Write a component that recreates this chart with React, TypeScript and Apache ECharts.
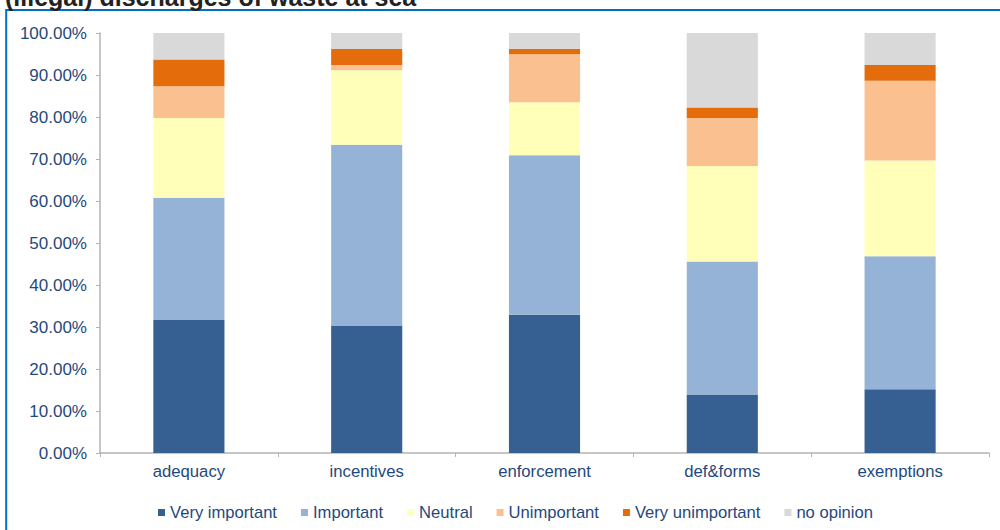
import React, { useEffect, useRef } from "react";
import * as echarts from "echarts";

// Survey answers per topic, as share of respondents (%)
const categories = ["adequacy", "incentives", "enforcement", "def&forms", "exemptions"];
const veryImportant = [31.65, 30.38, 32.91, 13.92, 15.19];
const important = [29.11, 43.04, 37.97, 31.65, 31.65];
const neutral = [18.99, 17.72, 12.66, 22.78, 22.78];
const unimportant = [7.59, 1.27, 11.39, 11.39, 18.99];
const veryUnimportant = [6.33, 3.8, 1.27, 2.53, 3.8];
const noOpinion = [6.33, 3.8, 3.8, 17.72, 7.59];

const seriesNames = ["Very important", "Important", "Neutral", "Unimportant", "Very unimportant", "no opinion"];
const seriesData = [veryImportant, important, neutral, unimportant, veryUnimportant, noOpinion];
const seriesColors = ["#366092", "#95B3D7", "#FFFFB9", "#FAC090", "#E46C0A", "#D9D9D9"];

const titleText = "(illegal) discharges of waste at sea";
const textColor = "#1F497D";
const axisColor = "#B3B3B3";
const fontFamily = "'Liberation Sans', Arial, sans-serif";

export default function App() {
  const ref = useRef<HTMLDivElement>(null);

  useEffect(() => {
    if (!ref.current) return;
    const chart = echarts.init(ref.current, undefined, { renderer: "svg" });
    chart.setOption({
      animation: false,
      backgroundColor: "#ffffff",
      textStyle: { fontFamily },
      graphic: [
        {
          type: "rect",
          shape: { x: 6.2, y: 10, width: 1020, height: 540 },
          style: { fill: "none", stroke: "#0070C0", lineWidth: 2 },
          silent: true,
        },
        {
          type: "text",
          x: 5,
          y: -16,
          style: {
            text: titleText,
            fill: "#222222",
            font: `bold 25px ${fontFamily}`,
            verticalAlign: "top",
          },
          silent: true,
        },
      ],
      legend: {
        left: 153,
        top: 499,
        itemWidth: 7,
        itemHeight: 7,
        itemGap: 24,
        icon: "rect",
        textStyle: { color: textColor, fontSize: 16.6, fontFamily },
        data: seriesNames,
      },
      grid: { left: 100, right: 11, top: 33, bottom: 77, containLabel: false },
      xAxis: {
        type: "category",
        data: categories,
        axisLine: { lineStyle: { color: axisColor, width: 1.5 } },
        axisTick: { show: true, length: 4, lineStyle: { color: axisColor } },
        axisLabel: { color: textColor, fontSize: 16.7, margin: 10, fontFamily },
        splitLine: { show: false },
      },
      yAxis: {
        type: "value",
        min: 0,
        max: 100,
        interval: 10,
        axisLine: { show: true, lineStyle: { color: axisColor, width: 1.5 } },
        axisTick: { show: true, length: 4, lineStyle: { color: axisColor } },
        axisLabel: {
          color: textColor,
          fontSize: 17,
          margin: 13,
          fontFamily,
          formatter: (v: number) => `${v.toFixed(2)}%`,
        },
        splitLine: { show: false },
      },
      series: seriesNames.map((name, i) => ({
        name,
        type: "bar",
        stack: "total",
        barWidth: "40%",
        data: seriesData[i],
        itemStyle: { color: seriesColors[i] },
      })),
    });
    return () => chart.dispose();
  }, []);

  return (
    <div
      ref={ref}
      style={{ position: "absolute", left: 0, top: 0, width: 1000, height: 530, overflow: "hidden" }}
    />
  );
}
